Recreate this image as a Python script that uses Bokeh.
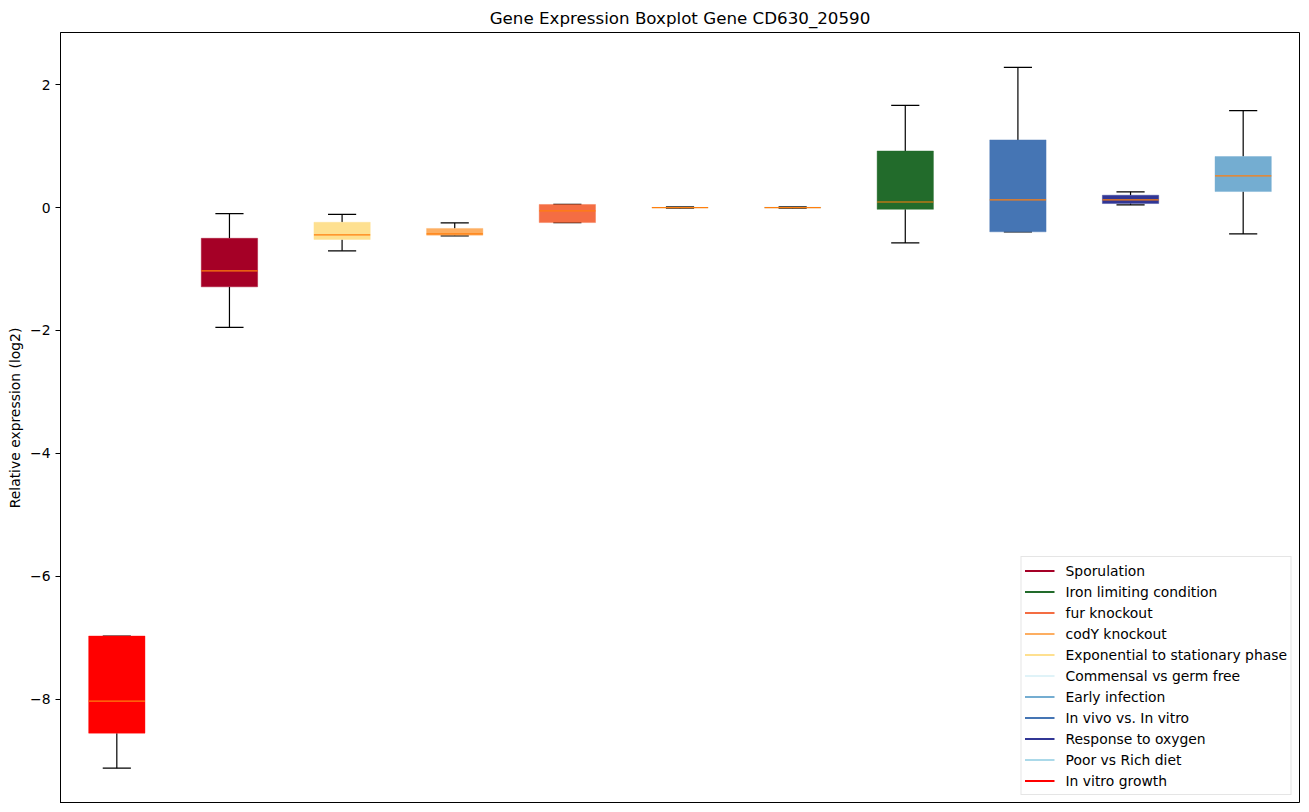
from bokeh.plotting import figure
from bokeh.models import Range1d, FixedTicker, ColumnDataSource, Legend, LegendItem
from bokeh.embed import file_html
from bokeh.resources import INLINE

# ---- data ----
box_names = ["In vitro growth", "Sporulation", "Exponential to stationary phase",
             "codY knockout", "fur knockout", "Commensal vs germ free",
             "Poor vs Rich diet", "Iron limiting condition", "In vivo vs. In vitro",
             "Response to oxygen", "Early infection"]
box_colors = ["#ff0000", "#a50026", "#fee090", "#fdae61", "#f46d43", "#e0f3f8",
              "#abd9e9", "#226b2b", "#4575b4", "#313695", "#74add1"]
whisk_lo = [-9.12, -1.95, -0.705, -0.46, -0.245, -0.01, -0.01, -0.575, -0.395, 0.044, -0.43]
q1 = [-8.55, -1.29, -0.52, -0.45, -0.245, -0.005, -0.005, -0.03, -0.395, 0.065, 0.26]
med = [-8.03, -1.03, -0.445, -0.43, -0.055, 0.0, 0.0, 0.09, 0.125, 0.125, 0.515]
q3 = [-6.97, -0.50, -0.24, -0.34, 0.05, 0.005, 0.005, 0.92, 1.10, 0.20, 0.83]
whisk_hi = [-6.97, -0.10, -0.11, -0.25, 0.05, 0.01, 0.01, 1.66, 2.28, 0.255, 1.575]

legend_names = ["Sporulation", "Iron limiting condition", "fur knockout", "codY knockout",
                "Exponential to stationary phase", "Commensal vs germ free",
                "Early infection", "In vivo vs. In vitro", "Response to oxygen",
                "Poor vs Rich diet", "In vitro growth"]
legend_colors = ["#a50026", "#226b2b", "#f46d43", "#fdae61", "#fee090", "#e0f3f8",
                 "#74add1", "#4575b4", "#313695", "#abd9e9", "#ff0000"]

yticks = [-8, -6, -4, -2, 0, 2]

pos = list(range(1, len(box_names) + 1))
box_w = 0.5
cap_w = 0.25

src = ColumnDataSource(dict(
    x=pos, lo=whisk_lo, q1=q1, med=med, q3=q3, hi=whisk_hi, color=box_colors,
    cl=[p - cap_w / 2 for p in pos], cr=[p + cap_w / 2 for p in pos],
    ml=[p - box_w / 2 for p in pos], mr=[p + box_w / 2 for p in pos],
))

FONT = "DejaVu Sans"

p = figure(width=1300, height=803, output_backend="svg", toolbar_location=None,
           x_range=Range1d(0.5, 11.5), y_range=Range1d(-9.694, 2.847),
           title="Gene Expression Boxplot Gene CD630_20590",
           min_border_left=60, min_border_right=1, min_border_bottom=0, min_border_top=0)

p.title.align = "center"
p.title.text_font = FONT
p.title.text_font_size = "16.7px"
p.title.text_font_style = "normal"
p.title.text_color = "black"

# whiskers and caps
p.segment(x0="x", y0="q3", x1="x", y1="hi", source=src, line_color="black", line_width=1.2)
p.segment(x0="x", y0="q1", x1="x", y1="lo", source=src, line_color="black", line_width=1.2)
p.segment(x0="cl", y0="hi", x1="cr", y1="hi", source=src, line_color="black", line_width=1.2)
p.segment(x0="cl", y0="lo", x1="cr", y1="lo", source=src, line_color="black", line_width=1.2)

# boxes
p.vbar(x="x", width=box_w, bottom="q1", top="q3", source=src,
       fill_color="color", line_color="color", line_alpha=0.4)

# medians
p.segment(x0="ml", y0="med", x1="mr", y1="med", source=src, line_color="#ff7f0e", line_width=1.2)

# legend (line handles; renderers carry no visible data)
nan = float("nan")
items = []
for name, c in zip(legend_names, legend_colors):
    r = p.line(x=[nan, nan], y=[nan, nan], line_color=c, line_width=2)
    items.append(LegendItem(label=name, renderers=[r]))
legend = Legend(items=items, location="bottom_right")
legend.label_text_font = FONT
legend.label_text_font_size = "13.9px"
legend.label_text_color = "black"
legend.label_height = 21
legend.glyph_height = 21
legend.glyph_width = 30
legend.label_standoff = 11
legend.spacing = 0
legend.padding = 3
legend.margin = 8
legend.border_line_color = "#cccccc"
legend.background_fill_alpha = 0.8
p.add_layout(legend)

# axes
p.xaxis.visible = False
p.xgrid.visible = False
p.ygrid.visible = False
p.yaxis.ticker = FixedTicker(ticks=yticks)
p.yaxis.major_label_overrides = {t: (str(t).replace("-", "\u2212")) for t in yticks}
p.yaxis.minor_tick_line_color = None
p.yaxis.major_label_text_font = FONT
p.yaxis.major_label_text_font_size = "13.9px"
p.yaxis.major_label_text_color = "black"
p.yaxis.axis_label = "Relative expression (log2)"
p.yaxis.axis_label_text_font = FONT
p.yaxis.axis_label_text_font_size = "13.9px"
p.yaxis.axis_label_text_font_style = "normal"
p.yaxis.axis_label_text_color = "black"
p.yaxis.axis_label_standoff = 4
p.yaxis.major_tick_out = 5
p.yaxis.major_tick_in = 0
p.yaxis.major_tick_line_color = "black"
p.yaxis.axis_line_color = "black"
p.outline_line_color = "black"
p.outline_line_width = 1
p.outline_line_alpha = 1.0

open("out.html", "w").write(file_html(p, INLINE))
